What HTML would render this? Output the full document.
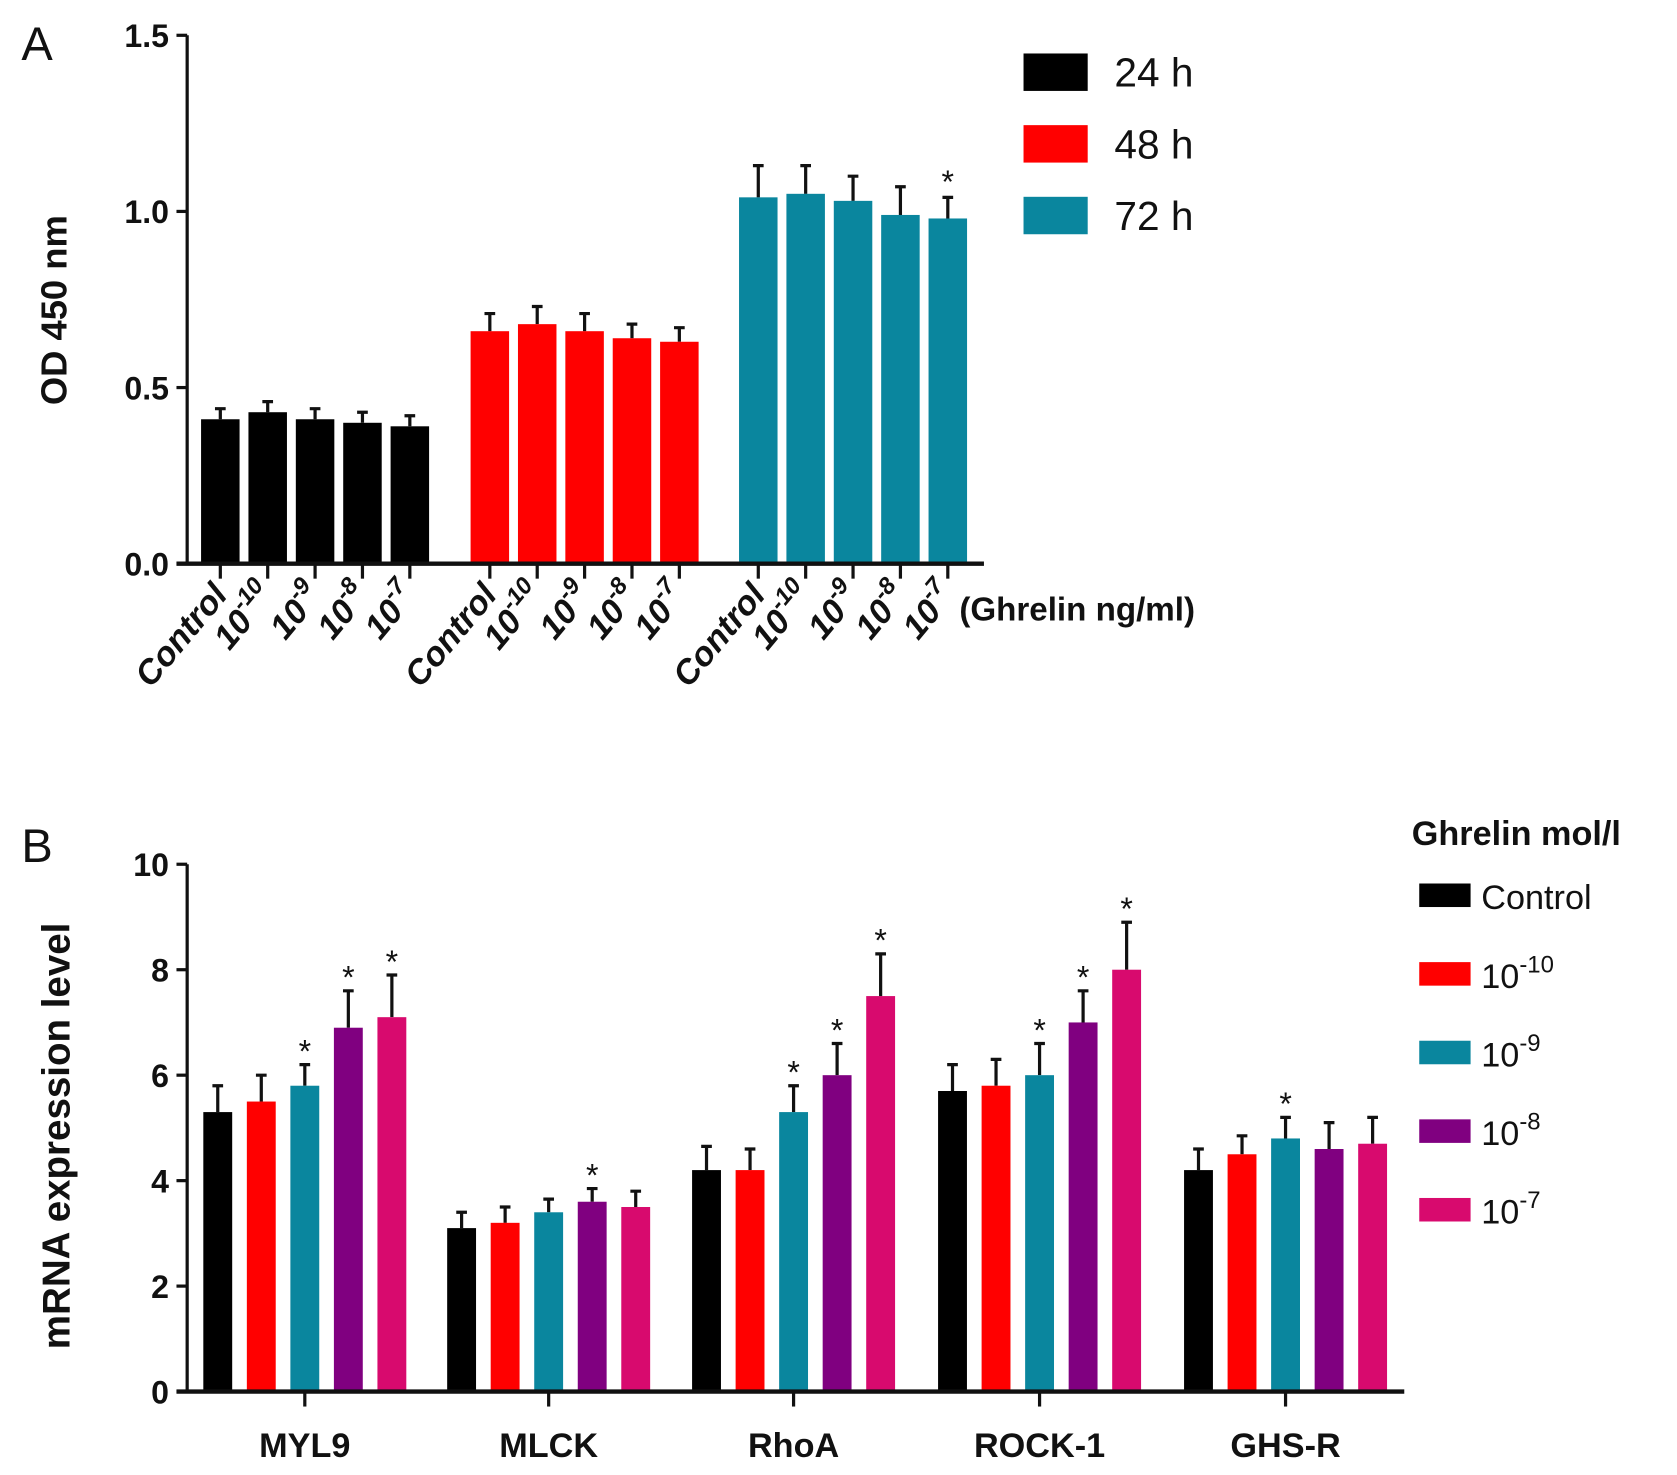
<!DOCTYPE html>
<html><head><meta charset="utf-8"><style>
html,body{margin:0;padding:0;background:#fff}
svg{display:block}
text{font-family:"Liberation Sans",Arial,sans-serif;fill:#111}
</style></head><body>
<svg id="fig" width="1677" height="1475" viewBox="0 0 1568 1379" preserveAspectRatio="none" xmlns="http://www.w3.org/2000/svg">
<g id="pa"></g>
<g id="pb"></g>
</svg>
<script>
// Panel A data
const aGroups = ["24 h","48 h","72 h"];
const aDoses = ["Control","10|-10","10|-9","10|-8","10|-7"];
const aVals24 = [0.41,0.43,0.41,0.40,0.39];
const aErr24 = [0.44,0.46,0.44,0.43,0.42];
const aVals48 = [0.66,0.68,0.66,0.64,0.63];
const aErr48 = [0.71,0.73,0.71,0.68,0.67];
const aVals72 = [1.04,1.05,1.03,0.99,0.98];
const aErr72 = [1.13,1.13,1.10,1.07,1.04];
const aStars72 = [0,0,0,0,1];
const aTicks = [0.0,0.5,1.0,1.5];
// Panel B data
const bCats = ["MYL9","MLCK","RhoA","ROCK-1","GHS-R"];
const bSeries = ["Control","10|-10","10|-9","10|-8","10|-7"];
const bControl = [5.3,3.1,4.2,5.7,4.2];
const bE10 = [5.5,3.2,4.2,5.8,4.5];
const bE9 = [5.8,3.4,5.3,6.0,4.8];
const bE8 = [6.9,3.6,6.0,7.0,4.6];
const bE7 = [7.1,3.5,7.5,8.0,4.7];
const bErrControl = [5.8,3.4,4.65,6.2,4.6];
const bErrE10 = [6.0,3.5,4.6,6.3,4.85];
const bErrE9 = [6.2,3.65,5.8,6.6,5.2];
const bErrE8 = [7.6,3.85,6.6,7.6,5.1];
const bErrE7 = [7.9,3.8,8.3,8.9,5.2];
const bStarE9 = [1,0,1,1,1];
const bStarE8 = [1,1,1,1,0];
const bStarE7 = [1,0,1,1,0];
const bTicks = [0,2,4,6,8,10];

const NS="http://www.w3.org/2000/svg";
function mk(parent,tag,attrs,txt){const e=document.createElementNS(NS,tag);for(const k in attrs)e.setAttribute(k,attrs[k]);if(txt!==undefined)e.textContent=txt;parent.appendChild(e);return e;}
function doseText(parent,str,x,y,size,attrs){
  const t=mk(parent,"text",Object.assign({x:x,y:y,"font-size":size},attrs||{}));
  const p=str.split("|");
  const s1=document.createElementNS(NS,"tspan");s1.textContent=p[0];t.appendChild(s1);
  if(p[1]){const s2=document.createElementNS(NS,"tspan");s2.setAttribute("dy",-size*0.45);s2.setAttribute("font-size",size*0.7);s2.textContent=p[1];t.appendChild(s2);}
  return t;
}

// ---------- Panel A ----------
const pa=document.getElementById("pa");
const ay0=527, ay1=33, aMax=1.5;
const aY=v=>ay0-(v/aMax)*(ay0-ay1);
const aGroupStart=[188,440,691], aStep=44.3, aBw=36;
const aX=(g,i)=>aGroupStart[g]+i*aStep+aBw/2;
const aColors=["#000000","#ff0000","#0a869e"];
const aVals=[aVals24,aVals48,aVals72], aErrs=[aErr24,aErr48,aErr72];
let t=mk(pa,"text",{x:20,y:56,"font-size":44},"A");


let l=mk(pa,"line",{x1:175,y1:ay0+1,x2:175,y2:ay1,stroke:"#111","stroke-width":3});


aTicks.forEach(v=>{
  const tk=mk(pa,"line",{x1:165,x2:175,y1:aY(v),y2:aY(v),stroke:"#111","stroke-width":3});
  
  
  const tl=mk(pa,"text",{x:158,y:aY(v)+11,"font-size":30,"font-weight":"bold","text-anchor":"end"},v.toFixed(1));
  
  
});
t=mk(pa,"text",{x:0,y:0,"font-size":34,"font-weight":"bold","text-anchor":"middle",transform:"translate(62,290) rotate(-90)"},"OD 450 nm");


for(let g=0;g<3;g++){for(let i=0;i<5;i++){
  const cx=aX(g,i), v=aVals[g][i], e=aErrs[g][i];
  const er=mk(pa,"path",{d:`M${cx} ${aY(v)}V${aY(e)}M${cx-5} ${aY(e)}H${cx+5}`,stroke:"#111","stroke-width":3,fill:"none"});
  
  
  const r=mk(pa,"rect",{x:cx-aBw/2,y:aY(v),width:aBw,height:ay0-aY(v),fill:aColors[g]});
  
  
  const tk=mk(pa,"line",{x1:cx,x2:cx,y1:ay0,y2:ay0+14,stroke:"#111","stroke-width":3});
  
  
  const lb=doseText(pa,aDoses[i],0,0,32,{"font-weight":"bold","font-style":"italic","text-anchor":"end",transform:`translate(${cx+8},${ay0+30}) rotate(-50)`});
  
  
  if(g===2&&aStars72[i]){const st=mk(pa,"text",{x:cx,y:aY(e)-4,"font-size":30,"text-anchor":"middle"},"*");
    
    }
}}
l=mk(pa,"line",{x1:165,y1:ay0,x2:920,y2:ay0,stroke:"#111","stroke-width":4});


t=mk(pa,"text",{x:897,y:580,"font-size":31,"font-weight":"bold"},"(Ghrelin ng/ml)");


aGroups.forEach((nm,k)=>{
  const y=50+k*67;
  const sw=mk(pa,"rect",{x:957,y:y,width:60,height:35,fill:aColors[k]});
  
  
  const lt=mk(pa,"text",{x:1042,y:y+31,"font-size":38},nm);
  
  
});

// ---------- Panel B ----------
const pb=document.getElementById("pb");
const by0=1301, by1=808, bMax=10;
const bY=v=>by0-(v/bMax)*(by0-by1);
const bCenters=[285,513,742,972,1202], bStep=40.7, bBw=27;
const bX=(c,s)=>bCenters[c]+(s-2)*bStep;
const bColors=["#000000","#ff0000","#0a869e","#800080","#d80a6e"];
const bVals=[bControl,bE10,bE9,bE8,bE7];
const bErrs=[bErrControl,bErrE10,bErrE9,bErrE8,bErrE7];
const bStars=[[0,0,0,0,0],[0,0,0,0,0],bStarE9,bStarE8,bStarE7];
t=mk(pb,"text",{x:20,y:806,"font-size":44},"B");


l=mk(pb,"line",{x1:175,y1:by0+1,x2:175,y2:by1,stroke:"#111","stroke-width":3});


bTicks.forEach(v=>{
  const tk=mk(pb,"line",{x1:165,x2:175,y1:bY(v),y2:bY(v),stroke:"#111","stroke-width":3});
  
  
  const tl=mk(pb,"text",{x:158,y:bY(v)+11,"font-size":30,"font-weight":"bold","text-anchor":"end"},String(v));
  
  
});
t=mk(pb,"text",{x:0,y:0,"font-size":36,"font-weight":"bold","text-anchor":"middle",transform:"translate(65,1062) rotate(-90)"},"mRNA expression level");


for(let c=0;c<5;c++){
  for(let s=0;s<5;s++){
    const cx=bX(c,s), v=bVals[s][c], e=bErrs[s][c];
    const er=mk(pb,"path",{d:`M${cx} ${bY(v)}V${bY(e)}M${cx-5} ${bY(e)}H${cx+5}`,stroke:"#111","stroke-width":3,fill:"none"});
    
    
    const r=mk(pb,"rect",{x:cx-bBw/2,y:bY(v),width:bBw,height:by0-bY(v),fill:bColors[s]});
    
    
    if(bStars[s][c]){const st=mk(pb,"text",{x:cx,y:bY(e)-2,"font-size":30,"text-anchor":"middle"},"*");
      
      }
  }
  const tk=mk(pb,"line",{x1:bCenters[c],x2:bCenters[c],y1:by0,y2:by0+14,stroke:"#111","stroke-width":3});
  
  
  const lb=mk(pb,"text",{x:bCenters[c],y:1362,"font-size":32,"font-weight":"bold","text-anchor":"middle"},bCats[c]);
  
  
}
l=mk(pb,"line",{x1:165,y1:by0,x2:1313,y2:by0,stroke:"#111","stroke-width":4});


t=mk(pb,"text",{x:1320,y:790,"font-size":32,"font-weight":"bold"},"Ghrelin mol/l");


bSeries.forEach((nm,k)=>{
  const y=826+k*73.5;
  const sw=mk(pb,"rect",{x:1327,y:y,width:48,height:22,fill:bColors[k]});
  
  
  const lt=doseText(pb,nm,1385,y+24,32,{});
  
  
});
</script>
</body></html>
